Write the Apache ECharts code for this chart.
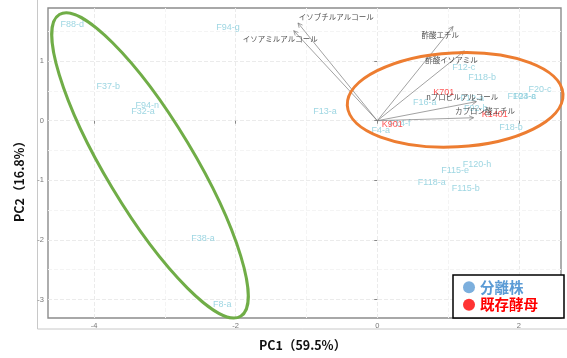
<!DOCTYPE html>
<html>
<head>
<meta charset="utf-8">
<script src="https://cdn.jsdelivr.net/npm/echarts@6/dist/echarts.min.js"></script>
<style>
  html, body { margin: 0; padding: 0; background: #fff; }
  #chart-pca { width: 567px; height: 358px; }
</style>
</head>
<body>
<div id="chart-pca"></div>
<script>
// isolates (分離株)
const isoNames = ["F88-d", "F94-g", "F37-b", "F94-n", "F32-a", "F13-a", "F4-a", "F14-f", "F16-a", "F12-c", "F118-b", "F20-c", "F103-a", "F24-c", "F18-b", "F12-a", "F92-b", "F120-h", "F115-e", "F118-a", "F115-b", "F38-a", "F8-a"];
const isoX = [-4.31, -2.11, -3.80, -3.25, -3.31, -0.74, 0.05, 0.32, 0.67, 1.22, 1.48, 2.30, 2.04, 2.08, 1.89, 1.34, 1.39, 1.41, 1.10, 0.77, 1.25, -2.46, -2.19];
const isoY = [1.61, 1.56, 0.57, 0.25, 0.16, 0.16, -0.16, -0.04, 0.30, 0.90, 0.73, 0.53, 0.40, 0.40, -0.12, 0.38, 0.21, -0.73, -0.84, -1.03, -1.13, -1.97, -3.09];

// existing yeasts (既存酵母)
const refNames = ["K901", "K701", "K1401"];
const refX = [0.21, 0.94, 1.66];
const refY = [-0.06, 0.48, 0.10];

// loadings
const varNames = ["イソブチルアルコール", "イソアミルアルコール", "酢酸エチル", "酢酸イソアミル", "nプロピルアルコール", "カプロン酸エチル"];
const varX = [-1.12, -1.18, 1.07, 1.23, 1.40, 1.36];
const varY = [1.64, 1.51, 1.58, 1.17, 0.32, 0.05];
const varLabelX = [-0.58, -1.37, 0.89, 1.05, 1.20, 1.52];
const varLabelY = [1.74, 1.37, 1.43, 1.01, 0.40, 0.16];

// axes
const xTicks = [-4, -2, 0, 2];
const yTicks = [-3, -2, -1, 0, 1];
const xMinor = [-3, -1, 1];
const yMinor = [-2.5, -1.5, -0.5, 0.5, 1.5];

// hand drawn rings (center in data units)
const ringCenters = [[-3.21, -0.75], [1.10, 0.35]];

const ringStyle = [
  { rx: 176, ry: 44, rot: -59, color: "#70AD47" },
  { rx: 108, ry: 47, rot: 3, color: "#ED7D31" },
];

const chart = echarts.init(document.getElementById("chart-pca"));

const gridLines = [];
xTicks.forEach((v) => gridLines.push({ xAxis: v, lineStyle: { color: "#ebebeb", width: 1 } }));
xMinor.forEach((v) => gridLines.push({ xAxis: v, lineStyle: { color: "#f4f4f4", width: 1 } }));
yTicks.forEach((v) => gridLines.push({ yAxis: v, lineStyle: { color: "#ebebeb", width: 1 } }));
yMinor.forEach((v) => gridLines.push({ yAxis: v, lineStyle: { color: "#f4f4f4", width: 1 } }));

const labelFont = "'Liberation Sans', Arial, sans-serif";
const jpFont = "'Noto Sans CJK JP', sans-serif";

function textSeries(name, xs, ys, names, color, font, size, z) {
  return {
    name: name,
    type: "scatter",
    z: z,
    symbolSize: 1,
    itemStyle: { color: "rgba(0,0,0,0)" },
    silent: true,
    data: names.map((n, i) => [xs[i], ys[i], n]),
    label: {
      show: true,
      position: "inside",
      formatter: (p) => p.data[2],
      color: color,
      fontFamily: font,
      fontSize: size,
    },
  };
}

chart.setOption({
  animation: false,
  grid: {
    left: 48,
    right: 6,
    top: 8,
    bottom: 40,
    show: true,
    borderColor: "#8c8c8c",
    borderWidth: 1.4,
    backgroundColor: "#fff",
  },
  graphic: [
    {
      type: "rect",
      shape: { x: 37.5, y: -2, width: 540, height: 331 },
      style: { fill: "none", stroke: "#c8c8c8", lineWidth: 1 },
      z: -1,
    },
    {
      type: "text",
      left: 259,
      top: 339,
      style: { text: "PC1（59.5%）", font: "bold 12.5px " + jpFont, fill: "#111" },
    },
    {
      type: "text",
      x: 13,
      y: 222,
      rotation: Math.PI / 2,
      style: { text: "PC2（16.8%）", font: "bold 12.5px " + jpFont, fill: "#111" },
    },
  ],
  legend: {
    orient: "vertical",
    right: 3,
    bottom: 40,
    z: 20,
    selectedMode: false,
    backgroundColor: "#fff",
    borderColor: "#000",
    borderWidth: 1.5,
    padding: [5, 26, 6, 10],
    itemGap: 3,
    itemWidth: 12,
    itemHeight: 12,
    itemTextGap: 2,
    textStyle: { fontSize: 14.5, fontWeight: "bold", fontFamily: jpFont },
    data: [
      { name: "分離株", icon: "circle", itemStyle: { color: "#5B9BD5" }, textStyle: { color: "#5B9BD5" } },
      { name: "既存酵母", icon: "circle", itemStyle: { color: "#FF0000" }, textStyle: { color: "#FF0000" } },
    ],
  },
  xAxis: {
    type: "value",
    min: -4.651,
    max: 2.595,
    axisLine: { show: false },
    splitLine: { show: false },
    axisTick: { show: true, customValues: xTicks, length: 3, lineStyle: { color: "#888" } },
    axisLabel: { customValues: xTicks, fontSize: 7.5, color: "#777", margin: 4, fontFamily: labelFont },
  },
  yAxis: {
    type: "value",
    min: -3.31,
    max: 1.891,
    axisLine: { show: false },
    splitLine: { show: false },
    axisTick: { show: true, customValues: yTicks, length: 3, lineStyle: { color: "#888" } },
    axisLabel: { customValues: yTicks, fontSize: 7.5, color: "#777", margin: 4, fontFamily: labelFont },
  },
  series: [
    {
      type: "scatter",
      z: 0,
      data: [],
      silent: true,
      markLine: {
        silent: true,
        z: 0,
        symbol: "none",
        label: { show: false },
        data: gridLines,
      },
    },
    textSeries("分離株", isoX, isoY, isoNames, "#86CCDB", labelFont, 9, 3),
    textSeries("既存酵母", refX, refY, refNames, "#FF2A2A", labelFont, 9, 4),
    {
      type: "custom",
      z: 5,
      silent: true,
      data: varX.map((x, i) => [x, varY[i]]),
      renderItem: function (params, api) {
        const o = api.coord([0, 0]);
        const p = api.coord([api.value(0), api.value(1)]);
        const ang = Math.atan2(p[1] - o[1], p[0] - o[0]);
        const h = 5,
          w = 0.45;
        const a1 = [p[0] - h * Math.cos(ang - w), p[1] - h * Math.sin(ang - w)];
        const a2 = [p[0] - h * Math.cos(ang + w), p[1] - h * Math.sin(ang + w)];
        return {
          type: "group",
          children: [
            { type: "line", shape: { x1: o[0], y1: o[1], x2: p[0], y2: p[1] }, style: { stroke: "#7a7a7a", lineWidth: 0.7 } },
            { type: "polyline", shape: { points: [a1, p, a2] }, style: { stroke: "#7a7a7a", lineWidth: 0.7, fill: null } },
          ],
        };
      },
    },
    textSeries("loadings", varLabelX, varLabelY, varNames, "#1a1a1a", jpFont, 7.5, 6),
    {
      type: "custom",
      z: 10,
      silent: true,
      clip: false,
      data: ringCenters,
      renderItem: function (params, api) {
        const c = api.coord([api.value(0), api.value(1)]);
        const s = ringStyle[params.dataIndex];
        return {
          type: "ellipse",
          x: c[0],
          y: c[1],
          rotation: (s.rot * Math.PI) / 180,
          shape: { cx: 0, cy: 0, rx: s.rx, ry: s.ry },
          style: { fill: "none", stroke: s.color, lineWidth: 3 },
        };
      },
    },
  ],
});
</script>
</body>
</html>
